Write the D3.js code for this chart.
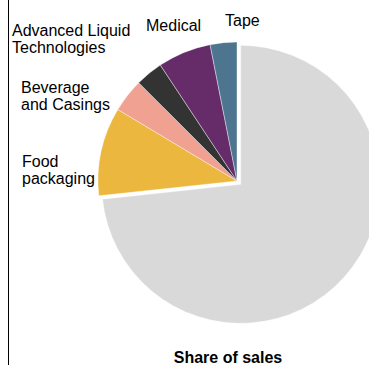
<!DOCTYPE html>
<html>
<head>
<meta charset="utf-8">
<script src="https://cdn.jsdelivr.net/npm/d3@7"></script>
<style>
  body { margin: 0; background: #fff; }
  svg { display: block; font-family: "Liberation Sans", Arial, sans-serif; }
</style>
</head>
<body>
<div class="chart"></div>
<script>
// Share of sales by segment (percent)
var segments = ["Other", "Food packaging", "Beverage and Casings", "Advanced Liquid Technologies", "Medical", "Tape"];
var shares = [73.3, 10.3, 3.9, 3.2, 6.2, 3.1];
var colors = ["#d9d9d9", "#ebb73f", "#f0a191", "#333333", "#662b69", "#4d758f"];

var labelLines = [
  [],
  ["Food", "packaging"],
  ["Beverage", "and Casings"],
  ["Advanced Liquid", "Technologies"],
  ["Medical"],
  ["Tape"]
];
var labelPos = [null, [22, 167], [21, 93], [12, 36], [146, 31], [225, 26]];

var width = 369, height = 365;
var cx = 237, cy = 181, radius = 139;

var svg = d3.select(".chart")
            .append("svg")
            .attr("width", width)
            .attr("height", height);

// left border
svg.append("line")
   .attr("x1", 8.5).attr("x2", 8.5)
   .attr("y1", 0).attr("y2", height)
   .attr("stroke", "#000")
   .attr("stroke-width", 1);

var data = segments.map(function(s, i){ return {name: s, value: shares[i], i: i}; });

var pie = d3.pie()
            .sort(null)
            .value(function(d){ return d.value; });

var arc = d3.arc()
            .innerRadius(0)
            .outerRadius(radius);

var g = svg.append("g")
           .attr("transform", "translate(" + cx + "," + cy + ")");

g.selectAll("path")
 .data(pie(data))
 .enter()
 .append("path")
 .attr("d", arc)
 .attr("fill", function(d){ return colors[d.data.i]; })
 .attr("stroke", "#fff")
 .attr("stroke-width", 0.4)
 .attr("transform", function(d){
     // the big slice is pulled out a little
     if (d.data.i !== 0) return null;
     var mid = (d.startAngle + d.endAngle) / 2, off = 5;
     return "translate(" + (Math.sin(mid) * off) + "," + (-Math.cos(mid) * off) + ")";
 });

// labels
labelLines.forEach(function(lines, i){
    if (!lines.length) return;
    var t = svg.append("text")
               .attr("x", labelPos[i][0])
               .attr("y", labelPos[i][1])
               .style("font-size", "16px")
               .attr("fill", "#000");
    lines.forEach(function(l, k){
        t.append("tspan")
         .attr("x", labelPos[i][0])
         .attr("dy", k === 0 ? 0 : 17)
         .text(l);
    });
});

svg.append("text")
   .attr("x", 228)
   .attr("y", 363)
   .attr("text-anchor", "middle")
   .style("font-size", "16px")
   .style("font-weight", "bold")
   .text("Share of sales");
</script>
</body>
</html>
